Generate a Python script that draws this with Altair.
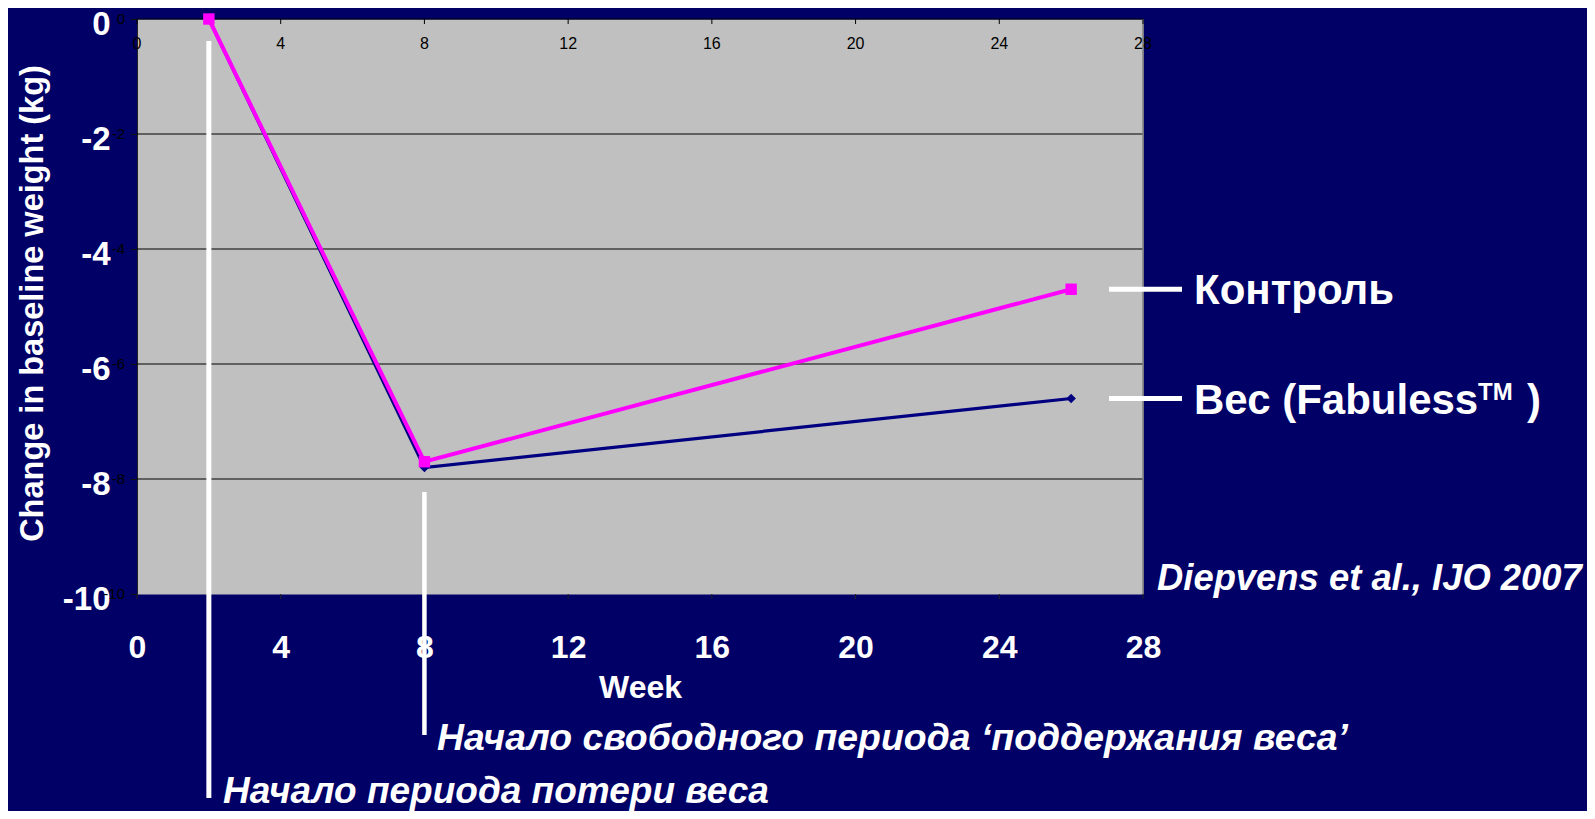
import altair as alt
import pandas as pd

# ---- data ----
weeks = [2, 8, 26]
control_kg = [0.0, -7.7, -4.7]
fabuless_kg = [0.0, -7.8, -6.6]
x_ticks = [0, 4, 8, 12, 16, 20, 24, 28]
y_ticks = [0, -2, -4, -6, -8, -10]
y_grid = [0, -2, -4, -6, -8]
small_y_ticks = [0, -2, -4, -6, -8, -10]
legend_labels = ["Контроль", "Вес (Fabuless"]
trademark = "TM"
close_paren = ")"
y_title = "Change in baseline weight (kg)"
x_title = "Week"
source_text = "Diepvens et al., IJO 2007"
note_start = "Начало периода потери веса"
note_maintain = "Начало свободного периода ‘поддержания веса’"
note_start_week = [2]
note_maintain_week = [8]

BG = "#000066"
PLOT = "#C0C0C0"
MAGENTA = "#FF00FF"
NAVY = "#000080"
FONT = "Liberation Sans, Arial, sans-serif"
W, H = 1006, 575

xs = alt.Scale(domain=[0, 28], nice=False, zero=False)
ys = alt.Scale(domain=[-10, 0], nice=False, zero=False)

AX_X = alt.Axis(values=x_ticks, grid=False, domain=False, ticks=False, tickSize=0,
                labelFont=FONT, labelFontSize=32, labelFontWeight="bold", labelColor="white",
                labelBaseline="alphabetic", labelPadding=63, labelFlush=False,
                title=x_title, titleFont=FONT, titleFontSize=32, titleFontWeight="bold",
                titleColor="white", titleX=503, titleY=103, titleAlign="center",
                titleBaseline="alphabetic")
AX_Y = alt.Axis(values=y_ticks, grid=False, domain=True, domainColor="#222222", domainWidth=1,
                ticks=True, tickSize=7, tickColor="#111111", tickWidth=1,
                labelFont=FONT, labelFontSize=33, labelFontWeight="bold", labelColor="white",
                labelPadding=20, labelOffset=5, labelFlush=False,
                labelExpr="(datum.value < 0 ? '-' : '') + abs(datum.value)",
                title=y_title, titleFont=FONT, titleFontSize=32.5, titleFontWeight="bold",
                titleColor="white", titleAngle=270, titleX=-95, titleY=284,
                titleAlign="center", titleBaseline="alphabetic")

def X():
    return alt.X("week:Q", scale=xs, axis=AX_X)

def Y():
    return alt.Y("change:Q", scale=ys, axis=AX_Y)

df_ctrl = pd.DataFrame({"week": weeks, "change": control_kg})
df_fab = pd.DataFrame({"week": weeks, "change": fabuless_kg})
df_grid = pd.DataFrame({"change": y_grid})
df_xt = pd.DataFrame({"week": x_ticks, "label": [str(v) for v in x_ticks]})
df_yt = pd.DataFrame({"change": small_y_ticks, "label": [str(v) for v in small_y_ticks]})
df_right = pd.DataFrame({"week": [28]})

grid = alt.Chart(df_grid).mark_rule(color="#000000", strokeWidth=1.2).encode(y=Y())
right_border = alt.Chart(df_right).mark_rule(color="#808080", strokeWidth=1.5).encode(x=X())
top_ticks = alt.Chart(df_xt).mark_rule(color="#000000", strokeWidth=1).encode(
    x=X(), y=alt.value(0), y2=alt.value(5))
bottom_ticks = alt.Chart(df_xt).mark_rule(color="#222222", strokeWidth=1).encode(
    x=X(), y=alt.value(H), y2=alt.value(H + 5))
top_labels = alt.Chart(df_xt).mark_text(font=FONT, fontSize=16, color="#000000",
                                         baseline="alphabetic", align="center").encode(
    x=X(), y=alt.value(30), text="label:N")
left_small = alt.Chart(df_yt).mark_text(font=FONT, fontSize=15, color="#000000",
                                         baseline="middle", align="right").encode(
    x=alt.value(-12), y=Y(), text="label:N")

fab_line = alt.Chart(df_fab).mark_line(color=NAVY, strokeWidth=3.2).encode(x=X(), y=Y())
fab_pts = alt.Chart(df_fab).mark_point(shape="diamond", filled=True, color=NAVY,
                                        size=90, opacity=1).encode(x=X(), y=Y())
ctrl_line = alt.Chart(df_ctrl).mark_line(color=MAGENTA, strokeWidth=4).encode(x=X(), y=Y())
ctrl_pts = alt.Chart(df_ctrl).mark_point(shape="square", filled=True, color=MAGENTA,
                                          size=130, opacity=1).encode(x=X(), y=Y())

# annotation leader lines
df_n1 = pd.DataFrame({"week": note_start_week})
df_n2 = pd.DataFrame({"week": note_maintain_week})
lead1 = alt.Chart(df_n1).mark_rule(color="white", strokeWidth=5).encode(
    x=X(), y=alt.value(22), y2=alt.value(779))
lead2 = alt.Chart(df_n2).mark_rule(color="white", strokeWidth=4.5).encode(
    x=X(), y=alt.value(473), y2=alt.value(716))

# legend-like labels at line ends
df_leg = pd.DataFrame({"change": [control_kg[-1], fabuless_kg[-1]], "label": legend_labels})
leg_rules = alt.Chart(df_leg).mark_rule(color="white", strokeWidth=5).encode(
    x=alt.value(972), x2=alt.value(1045), y=Y())
leg_text = alt.Chart(df_leg).mark_text(font=FONT, fontSize=42, fontWeight="bold", color="white",
                                        align="left", baseline="alphabetic", dy=15).encode(
    x=alt.value(1057), y=Y(), text="label:N")
df_tm = pd.DataFrame({"change": [fabuless_kg[-1]], "label": [trademark]})
tm_text = alt.Chart(df_tm).mark_text(font=FONT, fontSize=24, fontWeight="bold", color="white",
                                      align="left", baseline="alphabetic", dy=1).encode(
    x=alt.value(1341), y=Y(), text="label:N")
df_par = pd.DataFrame({"change": [fabuless_kg[-1]], "label": [close_paren]})
par_text = alt.Chart(df_par).mark_text(font=FONT, fontSize=42, fontWeight="bold", color="white",
                                        align="left", baseline="alphabetic", dy=15).encode(
    x=alt.value(1390), y=Y(), text="label:N")

def note(txt, px, py, size):
    d = pd.DataFrame({"label": [txt]})
    return alt.Chart(d).mark_text(font=FONT, fontSize=size, fontWeight="bold", fontStyle="italic",
                                  color="white", align="left", baseline="alphabetic").encode(
        x=alt.value(px), y=alt.value(py), text="label:N")

src = note(source_text, 1020, 571, 36.4)
n_maint = note(note_maintain, 300, 731, 37.4)
n_start = note(note_start, 86, 784, 37)

chart = alt.layer(
    grid, right_border, top_ticks, bottom_ticks, top_labels, left_small,
    fab_line, fab_pts, ctrl_line, ctrl_pts,
    lead1, lead2, leg_rules, leg_text, tm_text, par_text,
    src, n_maint, n_start,
).properties(
    width=W, height=H, background=BG,
    autosize=alt.AutoSizeParams(type="none"),
    padding={"left": 129, "top": 11, "right": 444, "bottom": 217},
).configure_view(fill=PLOT, stroke="transparent")

chart.save("out.html", embed_options={"renderer": "svg", "actions": False})
